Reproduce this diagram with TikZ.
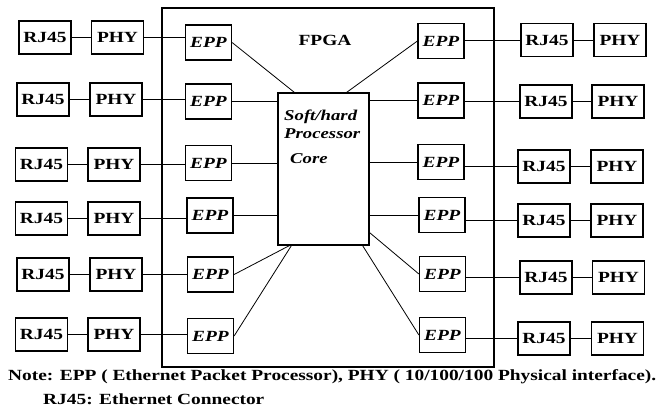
\documentclass[tikz,border=0pt]{standalone}
\usepackage{fontspec}
\setmainfont{Liberation Serif}[FakeStretch=1.25]
\usepackage{tikz}
\usetikzlibrary{calc}
\tikzset{
	unit/.style={draw, line width=1.2pt, minimum width=52pt, minimum height=33pt, inner sep=0pt, font=\fontsize{15.5}{17}\selectfont\bfseries},
	epp/.style={unit, minimum width=46pt, minimum height=35pt, font=\fontsize{15.5}{17}\selectfont\bfseries\itshape},
	wire/.style={line width=0.8pt},
	note/.style={anchor=west, inner sep=0pt, font=\fontsize{15.5}{17}\selectfont\bfseries}
}

\begin{document}
\begin{tikzpicture}[x=1pt, y=-1pt]
			%%%%% START %%%%%
			
			\useasboundingbox (0, 0) rectangle (661, 407);
			
			\draw[line width=1.2pt] (162, 8) rectangle (494, 367);
			\node[font=\fontsize{15.5}{17}\selectfont\bfseries] (fpga) at (325, 40) {FPGA};
			
			\node[draw, line width=1.2pt, minimum width=91pt, minimum height=152pt, inner sep=0pt] (core) at (323.5, 169) {};
			\node[note, font=\fontsize{15}{18}\selectfont\bfseries\itshape, align=left] (coretxt) at (284, 124) {Soft/hard\\Processor};
			\node[note, font=\fontsize{15}{17}\selectfont\bfseries\itshape] (coreword) at (290, 159) {Core};
			
			% left side
			\node[unit] (rjl1) at (45, 37.5) {RJ45};
			\node[unit] (phyl1) at (117.5, 37.5) {PHY};
			\node[epp] (eppl1) at (208.5, 42.5) {EPP};
			
			\node[unit] (rjl2) at (43, 99.5) {RJ45};
			\node[unit] (phyl2) at (116, 99.5) {PHY};
			\node[epp] (eppl2) at (208.5, 101.5) {EPP};
			
			\node[unit] (rjl3) at (41.5, 164.5) {RJ45};
			\node[unit] (phyl3) at (114, 164.5) {PHY};
			\node[epp] (eppl3) at (208.5, 163) {EPP};
			
			\node[unit] (rjl4) at (41.5, 218.5) {RJ45};
			\node[unit] (phyl4) at (114, 218.5) {PHY};
			\node[epp] (eppl4) at (210, 215.5) {EPP};
			
			\node[unit] (rjl5) at (43, 274.5) {RJ45};
			\node[unit] (phyl5) at (116, 274.5) {PHY};
			\node[epp] (eppl5) at (210.5, 274.5) {EPP};
			
			\node[unit] (rjl6) at (41.5, 334.5) {RJ45};
			\node[unit] (phyl6) at (114, 334.5) {PHY};
			\node[epp] (eppl6) at (210.5, 336) {EPP};
			
			% right side
			\node[epp] (eppr1) at (441, 41) {EPP};
			\node[unit] (rjr1) at (547, 40) {RJ45};
			\node[unit] (phyr1) at (620, 40) {PHY};
			
			\node[epp] (eppr2) at (441, 100.5) {EPP};
			\node[unit] (rjr2) at (546, 101.5) {RJ45};
			\node[unit] (phyr2) at (618, 101.5) {PHY};
			
			\node[epp] (eppr3) at (441, 162) {EPP};
			\node[unit] (rjr3) at (544, 166.5) {RJ45};
			\node[unit] (phyr3) at (617, 166.5) {PHY};
			
			\node[epp] (eppr4) at (442, 215) {EPP};
			\node[unit] (rjr4) at (544, 220.5) {RJ45};
			\node[unit] (phyr4) at (617, 220.5) {PHY};
			
			\node[epp] (eppr5) at (442.5, 274) {EPP};
			\node[unit] (rjr5) at (546, 277.5) {RJ45};
			\node[unit] (phyr5) at (618.5, 277.5) {PHY};
			
			\node[epp] (eppr6) at (442.5, 335) {EPP};
			\node[unit] (rjr6) at (544, 338.5) {RJ45};
			\node[unit] (phyr6) at (617.5, 338.5) {PHY};
			
			% left links
			\draw[wire] (rjl1) -- (phyl1);
			\draw[wire] (phyl1.east) -- (phyl1.east -| eppl1.west);
			\draw[wire] (rjl2) -- (phyl2);
			\draw[wire] (phyl2.east) -- (phyl2.east -| eppl2.west);
			\draw[wire] (rjl3) -- (phyl3);
			\draw[wire] (phyl3.east) -- (phyl3.east -| eppl3.west);
			\draw[wire] (rjl4) -- (phyl4);
			\draw[wire] (phyl4.east) -- (phyl4.east -| eppl4.west);
			\draw[wire] (rjl5) -- (phyl5);
			\draw[wire] (phyl5.east) -- (phyl5.east -| eppl5.west);
			\draw[wire] (rjl6) -- (phyl6);
			\draw[wire] (phyl6.east) -- (phyl6.east -| eppl6.west);
			
			% right links
			\draw[wire] (rjr1.west -| eppr1.east) -- (rjr1.west);
			\draw[wire] (rjr1) -- (phyr1);
			\draw[wire] (rjr2.west -| eppr2.east) -- (rjr2.west);
			\draw[wire] (rjr2) -- (phyr2);
			\draw[wire] (rjr3.west -| eppr3.east) -- (rjr3.west);
			\draw[wire] (rjr3) -- (phyr3);
			\draw[wire] (rjr4.west -| eppr4.east) -- (rjr4.west);
			\draw[wire] (rjr4) -- (phyr4);
			\draw[wire] (rjr5.west -| eppr5.east) -- (rjr5.west);
			\draw[wire] (rjr5) -- (phyr5);
			\draw[wire] (rjr6.west -| eppr6.east) -- (rjr6.west);
			\draw[wire] (rjr6) -- (phyr6);
			
			% core links
			\draw[wire] (eppl1.east) -- ([xshift=17pt]core.north west);
			\draw[wire] (eppl2.east) -- (eppl2.east -| core.west);
			\draw[wire] (eppl3.east) -- (eppl3.east -| core.west);
			\draw[wire] (eppl4.east) -- (eppl4.east -| core.west);
			\draw[wire] (eppl5.east) -- ([xshift=12pt]core.south west);
			\draw[wire] (eppl6.east) -- ([xshift=14pt]core.south west);
			
			\draw[wire] ([xshift=-23pt]core.north east) -- (eppr1.west);
			\draw[wire] (eppr2.west -| core.east) -- (eppr2.west);
			\draw[wire] (eppr3.west -| core.east) -- (eppr3.west);
			\draw[wire] (eppr4.west -| core.east) -- (eppr4.west);
			\draw[wire] ([yshift=13pt]core.south east) -- (eppr5.west);
			\draw[wire] ([xshift=-7pt]core.south east) -- (eppr6.west);
			
			% note
			\node[note] (note1) at (8, 377) {Note: EPP ( Ethernet Packet Processor), PHY ( 10/100/100 Physical interface).};
			\node[note] (note2) at (43, 399) {RJ45: Ethernet Connector};
			
			%%%%% END %%%%%
		\end{tikzpicture}
\end{document}
